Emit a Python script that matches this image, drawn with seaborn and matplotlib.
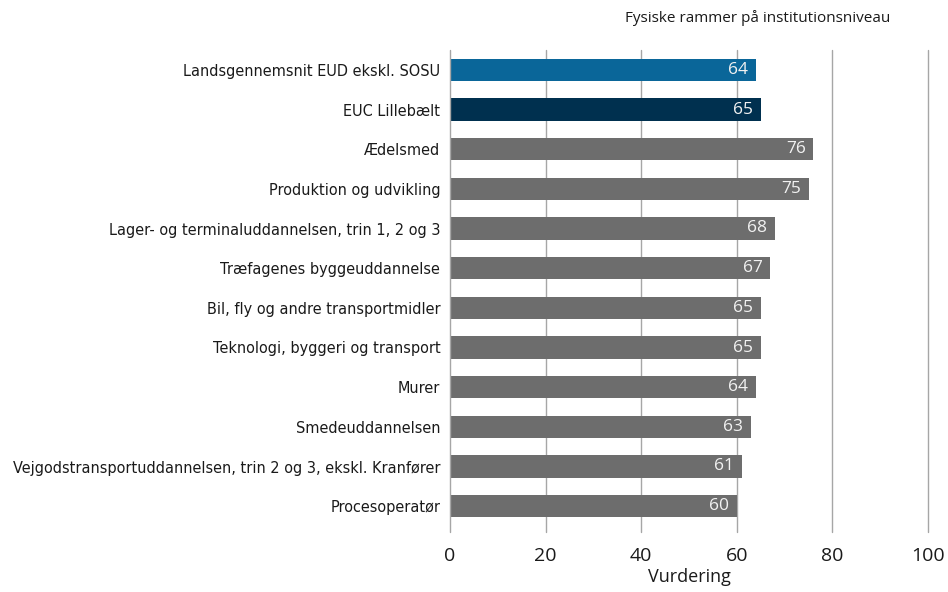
import matplotlib
matplotlib.use("Agg")
import matplotlib.pyplot as plt
import seaborn as sns
import pandas as pd

categories = [
    "Landsgennemsnit EUD ekskl. SOSU",
    "EUC Lillebælt",
    "Ædelsmed",
    "Produktion og udvikling",
    "Lager- og terminaluddannelsen, trin 1, 2 og 3",
    "Træfagenes byggeuddannelse",
    "Bil, fly og andre transportmidler",
    "Teknologi, byggeri og transport",
    "Murer",
    "Smedeuddannelsen",
    "Vejgodstransportuddannelsen, trin 2 og 3, ekskl. Kranfører",
    "Procesoperatør",
]
values = [64, 65, 76, 75, 68, 67, 65, 65, 64, 63, 61, 60]
x_ticks = [0, 20, 40, 60, 80, 100]

bar_colors = ["#0a6699", "#00304f"] + ["#6d6d6d"] * (len(categories) - 2)

df = pd.DataFrame({"Kategori": categories, "Vurdering": values})

sns.set_theme(style="white")
plt.rcParams["font.family"] = ["DejaVu Sans"]

fig = plt.figure(figsize=(9.48, 5.92), dpi=100)
ax = fig.add_axes([450 / 948, 1 - 526 / 592, 478 / 948, 476 / 592])

sns.barplot(data=df, x="Vurdering", y="Kategori", hue="Kategori",
            palette=bar_colors, legend=False, width=0.56, ax=ax,
            saturation=1, orient="h", linewidth=0, zorder=2)

ax.set_xlim(0, 100)
ax.set_ylim(len(categories) - 0.5, -0.5)
ax.set_xticks(x_ticks)
ax.set_xticklabels([str(t) for t in x_ticks], fontsize=14, family="Open Sans")
ax.tick_params(axis="x", length=0, pad=15, labelcolor="#1a1a1a")
ax.tick_params(axis="y", length=0, pad=7, labelsize=10.45, labelcolor="#1a1a1a")
for t in x_ticks[1:]:
    ax.axvline(t, color="#a6a6a6", lw=1.0, zorder=0, ymin=-0.012, ymax=1, clip_on=False)
ax.axvline(0, color="#a6a6a6", lw=1.0, zorder=3, ymin=-0.012, ymax=1, clip_on=False)
for s in ax.spines.values():
    s.set_visible(False)

ax.set_ylabel("")
ax.set_xlabel("Vurdering", fontsize=13, family="Open Sans", labelpad=2, color="#1a1a1a")

for i, v in enumerate(values):
    ax.text(v - 1.6, i, f"{v}", ha="right", va="center", color="#f2f2f2",
            fontsize=12.5, family="Open Sans", zorder=4)

fig.text(890 / 948, 1 - 18 / 592, "Fysiske rammer på institutionsniveau",
         ha="right", va="center", fontsize=11, family="Open Sans", color="#1a1a1a")

fig.savefig("out.png", dpi=100)
